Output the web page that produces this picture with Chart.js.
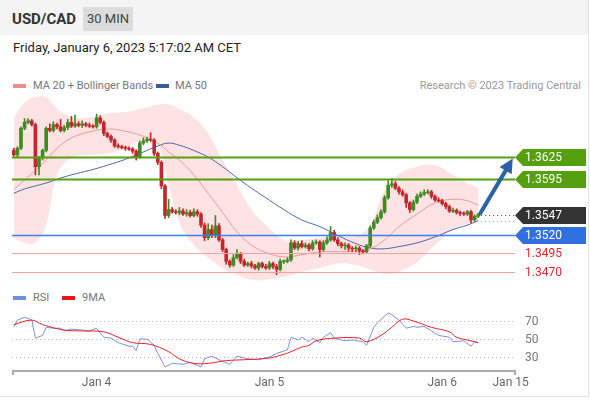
<!DOCTYPE html>
<html>
<head>
<meta charset="utf-8">
<script src="https://cdn.jsdelivr.net/npm/chart.js@4.4.1/dist/chart.umd.min.js"></script>
<style>
  body { margin: 0; background: #fff; font-family: Roboto, "Liberation Sans", Arial, sans-serif; }
  #page { position: relative; width: 588px; height: 396px; border-right: 1px solid #e4e4e4; border-bottom: 1px solid #e4e4e4; overflow: hidden; }
  #header { position: absolute; left: 0; top: 0; width: 588px; height: 35px; background: #f4f4f4; }
  #pair { position: absolute; left: 12px; top: 10px; font-size: 15px; font-weight: bold; color: #333; }
  #tf { position: absolute; left: 83px; top: 7px; width: 50px; height: 24px; line-height: 24px; text-align: center; background: #dcdcdc; font-size: 13px; color: #444; }
  #date { position: absolute; left: 13px; top: 40px; font-size: 13px; color: #222; }
  .lg { position: absolute; font-size: 11px; color: #777; line-height: 12px; }
  .sw { position: absolute; width: 13px; height: 4px; }
  canvas { position: absolute; left: 0; }
</style>
</head>
<body>
<div id="page">
  <div id="header"><div id="pair">USD/CAD</div><div id="tf">30 MIN</div></div>
  <div id="date">Friday, January 6, 2023 5:17:02 AM CET</div>

  <div class="sw" style="left:13px;top:84px;background:#f28b8b"></div>
  <div class="lg" style="left:33px;top:80px">MA 20 + Bollinger Bands</div>
  <div class="sw" style="left:156px;top:84px;background:#3a5a9c"></div>
  <div class="lg" style="left:175px;top:80px">MA 50</div>
  <div class="lg" style="right:7px;top:80px;color:#999">Research © 2023 Trading Central</div>

  <div class="sw" style="left:13px;top:296px;background:#6f8fdc"></div>
  <div class="lg" style="left:33px;top:292px">RSI</div>
  <div class="sw" style="left:62px;top:296px;background:#e8151b"></div>
  <div class="lg" style="left:82px;top:292px">9MA</div>

  <canvas id="mainChart" width="590" height="200" style="top:90px"></canvas>
  <canvas id="rsiChart" width="590" height="100" style="top:300px"></canvas>
</div>

<script>
// 30 min candles, Jan 3 12:30 -> Jan 6 05:00
const firstOpen = 1.3634;
const closes = [
  1.3628, 1.3637, 1.3664, 1.3672, 1.3674, 1.3669, 1.3612, 1.3624, 1.3634, 1.3664,
  1.3661, 1.3669, 1.3666, 1.3661, 1.3665, 1.3672, 1.3667, 1.3670, 1.3668, 1.3670,
  1.3668, 1.3667, 1.3666, 1.3678, 1.3672, 1.3657, 1.3653, 1.3648, 1.3640, 1.3639,
  1.3638, 1.3637, 1.3636, 1.3633, 1.3625, 1.3644, 1.3647, 1.3649, 1.3648, 1.3630,
  1.3618, 1.3586, 1.3546, 1.3554, 1.3551, 1.3550, 1.3552, 1.3548, 1.3550, 1.3546,
  1.3551, 1.3548, 1.3533, 1.3516, 1.3527, 1.3519, 1.3532, 1.3513, 1.3500, 1.3484,
  1.3479, 1.3489, 1.3494, 1.3484, 1.3479, 1.3481, 1.3478, 1.3475, 1.3481, 1.3477,
  1.3475, 1.3481, 1.3477, 1.3473, 1.3484, 1.3484, 1.3486, 1.3509, 1.3502, 1.3508,
  1.3504, 1.3506, 1.3501, 1.3509, 1.3510, 1.3500, 1.3509, 1.3513, 1.3523, 1.3513,
  1.3508, 1.3505, 1.3506, 1.3502, 1.3501, 1.3502, 1.3498, 1.3497, 1.3505, 1.3529,
  1.3537, 1.3543, 1.3551, 1.3570, 1.3587, 1.3589, 1.3583, 1.3578, 1.3574, 1.3563,
  1.3554, 1.3564, 1.3572, 1.3575, 1.3577, 1.3578, 1.3572, 1.3567, 1.3566, 1.3562,
  1.3558, 1.3552, 1.3553, 1.3550, 1.3549, 1.3548, 1.3551, 1.3540, 1.3545, 1.3547
];
// wick lengths above / below the body, in pips
const wickUp = [
  3,2,2,5,3,2,2,2,2,2, 6,4,2,10,3,4,8,12,3,4, 2,3,2,5,3,2,2,2,2,3,
  2,2,2,2,2,3,4,3,9,2, 2,2,2,14,3,3,5,3,4,3, 4,3,2,3,8,6,14,3,2,2,
  2,4,6,2,3,2,3,2,2,2, 3,3,2,3,3,2,3,4,3,3, 4,3,2,3,3,2,3,4,8,3,
  3,2,3,2,2,3,2,2,2,3, 3,4,3,3,6,7,3,2,3,2, 2,3,3,3,4,3,2,2,3,2,
  2,2,3,2,2,2,2,2,2,2
];
const wickDown = [
  2,3,2,2,2,2,11,11,3,2, 2,2,3,2,2,3,2,2,2,3, 2,2,2,2,2,3,2,3,2,2,
  2,3,2,3,4,2,2,2,2,3, 3,4,4,3,2,2,3,2,3,2, 2,3,3,4,3,3,3,2,3,4,
  3,2,2,3,2,2,3,2,3,2, 2,2,3,7,2,3,2,2,2,3, 2,2,3,2,2,10,2,2,2,2,
  3,3,5,4,4,4,5,3,2,2, 2,2,2,2,2,3,2,3,2,6, 4,2,2,2,2,2,3,2,2,2,
  3,2,2,2,3,2,2,4,2,2
];

// indicator lines read at these candle indexes
const indIdx    = [0, 3, 6, 9, 12, 16, 21, 26, 31, 36, 40, 43, 46, 50, 54, 58, 62, 66, 70, 75, 80, 85, 90, 95, 99, 103, 107, 112, 117, 122, 126, 129];
const bandUpper = [1.3678, 1.3699, 1.3706, 1.3706, 1.3691, 1.3679, 1.3679, 1.3684, 1.3686, 1.3691, 1.3696, 1.3696, 1.3690, 1.3679, 1.3657, 1.3621,
                   1.3587, 1.3554, 1.3533, 1.3513, 1.3513, 1.3516, 1.3518, 1.3518, 1.3533, 1.3580, 1.3602, 1.3612, 1.3614, 1.3601, 1.3590, 1.3583];
const bandLower = [1.3516, 1.3509, 1.3509, 1.3533, 1.3601, 1.3624, 1.3628, 1.3630, 1.3637, 1.3648, 1.3641, 1.3587, 1.3537, 1.3506, 1.3489, 1.3475,
                   1.3466, 1.3459, 1.3459, 1.3463, 1.3470, 1.3475, 1.3481, 1.3479, 1.3473, 1.3467, 1.3470, 1.3483, 1.3506, 1.3527, 1.3535, 1.3537];
const ma20      = [1.3581, 1.3594, 1.3607, 1.3621, 1.3637, 1.3651, 1.3659, 1.3663, 1.3660, 1.3653, 1.3644, 1.3632, 1.3621, 1.3601, 1.3576, 1.3550,
                   1.3524, 1.3506, 1.3496, 1.3490, 1.3493, 1.3497, 1.3497, 1.3498, 1.3501, 1.3513, 1.3531, 1.3548, 1.3563, 1.3568, 1.3566, 1.3560];
const ma50      = [1.3576, 1.3582, 1.3586, 1.3590, 1.3595, 1.3601, 1.3607, 1.3614, 1.3622, 1.3632, 1.3640, 1.3644, 1.3641, 1.3634, 1.3625, 1.3612,
                   1.3597, 1.3583, 1.3570, 1.3554, 1.3540, 1.3531, 1.3519, 1.3508, 1.3502, 1.3501, 1.3504, 1.3509, 1.3517, 1.3527, 1.3533, 1.3539];

const levels = [1.3625, 1.3595, 1.3547, 1.3520, 1.3495, 1.3470];
const levelKinds = ['target', 'target', 'last', 'pivot', 'support', 'support'];
const arrowFrom = [129.6, 1.3549];
const arrowTo = [138.6, 1.3623];

// RSI panel
const rsiIdx = [0, 1, 3, 4, 5, 6, 8, 9, 11, 13, 14, 16, 19, 21, 23, 25, 27, 29, 32, 33, 34, 35, 37, 39, 40, 42, 44, 47, 49, 52, 53, 55, 57, 60, 62,
                65, 68, 71, 73, 76, 77, 79, 80, 82, 83, 85, 86, 88, 89, 92, 94, 97, 98, 100, 101, 104, 105, 107, 109, 111, 112, 114, 116, 118, 121, 122, 125, 127, 128, 129];
const rsiVal = [63, 71, 74, 73, 71, 51, 54, 63, 62, 62, 59, 61, 60, 59, 62, 52, 51, 46, 42, 42, 37, 50, 50, 43, 34, 19, 23, 22, 24, 19, 28, 31, 27, 22, 31,
                28, 27, 30, 34, 38, 52, 49, 52, 47, 51, 46, 52, 57, 51, 48, 49, 47, 43, 63, 68, 79, 77, 71, 62, 64, 63, 64, 59, 54, 52, 47, 48, 42, 47, 46];
const ma9Idx = [0, 5, 8, 14, 19, 25, 29, 33, 38, 43, 46, 50, 54, 59, 64, 71, 75, 77, 80, 82, 84, 89, 96, 98, 102, 105, 108, 111, 116, 121, 123, 127, 129];
const ma9Val = [66, 71, 66, 60, 59, 58, 52, 46, 44, 36, 28, 23, 23, 26, 27, 29, 33, 36, 41, 43, 48, 51, 51, 47, 54, 63, 72, 70, 63, 58, 52, 48, 46];
const rsiLevels = [70, 50, 30];

const xTickIdx = [23, 71, 119, 138];
const xTickLabels = ['Jan 4', 'Jan 5', 'Jan 6', 'Jan 15'];

const X_MIN = -0.5, X_MAX = 139.5;
const FONT = 'Roboto, "Liberation Sans", Arial, sans-serif';
const GREEN = '#3f8a22', RED = '#c4262b';

// candles
const opens = closes.map((c, i) => i === 0 ? firstOpen : closes[i - 1]);
const bodies = closes.map((c, i) => {
    const o = opens[i];
    let lo = Math.min(o, c), hi = Math.max(o, c);
    if (hi - lo < 0.00012) { const m = (hi + lo) / 2; lo = m - 0.00006; hi = m + 0.00006; }
    return { x: i, y: [lo, hi] };
});
const wicks = closes.map((c, i) => ({
    x: i,
    y: [Math.min(opens[i], c) - wickDown[i] * 0.0001, Math.max(opens[i], c) + wickUp[i] * 0.0001]
}));
const candleColors = closes.map((c, i) => c >= opens[i] ? GREEN : RED);
const pts = (xs, ys) => xs.map((x, k) => ({ x: x, y: ys[k] }));

function labelBox(ctx, x, y, color) {
    ctx.fillStyle = color;
    ctx.beginPath();
    ctx.moveTo(x, y);
    ctx.lineTo(x + 8, y - 8.5);
    ctx.lineTo(586, y - 8.5);
    ctx.lineTo(586, y + 8.5);
    ctx.lineTo(x + 8, y + 8.5);
    ctx.closePath();
    ctx.fill();
}

const levelPlugin = {
    id: 'levels',
    afterDatasetsDraw(chart) {
        const ctx = chart.ctx, xs = chart.scales.x, ys = chart.scales.y;
        const left = chart.chartArea.left, right = 515;
        ctx.save();
        ctx.font = '12px ' + FONT;
        ctx.textBaseline = 'middle';
        levels.forEach((lv, k) => {
            const y = Math.round(ys.getPixelForValue(lv)) + 0.5;
            const kind = levelKinds[k];
            ctx.setLineDash([]);
            if (kind === 'target') {
                ctx.strokeStyle = '#54a00e'; ctx.lineWidth = 2;
                ctx.beginPath(); ctx.moveTo(left, y); ctx.lineTo(right, y); ctx.stroke();
                labelBox(ctx, right, y, '#54a00e');
                ctx.fillStyle = '#fff';
            } else if (kind === 'pivot') {
                ctx.strokeStyle = '#3d7ff0'; ctx.lineWidth = 1.3;
                ctx.beginPath(); ctx.moveTo(left, y); ctx.lineTo(right, y); ctx.stroke();
                labelBox(ctx, right, y, '#2f6fe0');
                ctx.fillStyle = '#fff';
            } else if (kind === 'last') {
                ctx.strokeStyle = '#444'; ctx.lineWidth = 1; ctx.setLineDash([1, 3]);
                const x0 = xs.getPixelForValue(closes.length - 1) + 3;
                ctx.beginPath(); ctx.moveTo(x0, y); ctx.lineTo(right, y); ctx.stroke();
                const ym = Math.round(ys.getPixelForValue(ma50[ma50.length - 1])) + 0.5;
                ctx.strokeStyle = '#888';
                ctx.beginPath(); ctx.moveTo(x0, ym); ctx.lineTo(right, ym); ctx.stroke();
                ctx.setLineDash([]);
                labelBox(ctx, right, y, '#333');
                ctx.fillStyle = '#fff';
            } else {
                ctx.strokeStyle = '#f3a2a2'; ctx.lineWidth = 1;
                ctx.beginPath(); ctx.moveTo(left, y); ctx.lineTo(right, y); ctx.stroke();
                ctx.fillStyle = '#e3262b';
            }
            ctx.fillText(lv.toFixed(4), 525, y + 0.5);
        });

        // forecast arrow
        const ax = xs.getPixelForValue(arrowFrom[0]), ay = ys.getPixelForValue(arrowFrom[1]);
        const bx = xs.getPixelForValue(arrowTo[0]), by = ys.getPixelForValue(arrowTo[1]);
        const ang = Math.atan2(by - ay, bx - ax), head = 14, half = 7;
        const hx = bx - head * Math.cos(ang), hy = by - head * Math.sin(ang);
        ctx.strokeStyle = '#2b62a8'; ctx.fillStyle = '#2b62a8'; ctx.lineWidth = 4; ctx.lineCap = 'round';
        ctx.beginPath(); ctx.moveTo(ax, ay); ctx.lineTo(hx, hy); ctx.stroke();
        ctx.beginPath();
        ctx.moveTo(bx, by);
        ctx.lineTo(hx + half * Math.sin(ang), hy - half * Math.cos(ang));
        ctx.lineTo(hx - half * Math.sin(ang), hy + half * Math.cos(ang));
        ctx.closePath(); ctx.fill();
        ctx.restore();
    }
};

new Chart(document.getElementById('mainChart'), {
    type: 'bar',
    data: {
        datasets: [
            { type: 'line', data: pts(indIdx, bandUpper), borderWidth: 0, pointRadius: 0, tension: 0.4, fill: '+1', backgroundColor: '#fde3e3', order: 5 },
            { type: 'line', data: pts(indIdx, bandLower), borderWidth: 0, pointRadius: 0, tension: 0.4, fill: false, order: 5 },
            { type: 'line', data: pts(indIdx, ma20), borderColor: '#f19a9a', borderWidth: 1, pointRadius: 0, tension: 0.4, fill: false, order: 3 },
            { type: 'line', data: pts(indIdx, ma50), borderColor: '#4a67a8', borderWidth: 1, pointRadius: 0, tension: 0.4, fill: false, order: 3 },
            { data: wicks, backgroundColor: candleColors, barThickness: 1, grouped: false, order: 1 },
            { data: bodies, backgroundColor: candleColors, barThickness: 3, grouped: false, order: 0 }
        ]
    },
    options: {
        responsive: false,
        animation: false,
        events: [],
        layout: { padding: { left: 12, right: 74, top: 5, bottom: 5 } },
        scales: {
            x: { type: 'linear', min: X_MIN, max: X_MAX, offset: false, display: false },
            y: { min: 1.3452, max: 1.3709, display: false }
        },
        plugins: { legend: { display: false }, tooltip: { enabled: false } }
    },
    plugins: [levelPlugin]
});

const rsiPlugin = {
    id: 'rsiAxes',
    beforeDatasetsDraw(chart) {
        const ctx = chart.ctx, ys = chart.scales.y, a = chart.chartArea;
        ctx.save();
        ctx.strokeStyle = '#bdbdbd'; ctx.lineWidth = 1; ctx.setLineDash([1, 3]);
        ctx.font = '12px ' + FONT; ctx.fillStyle = '#777'; ctx.textBaseline = 'middle';
        rsiLevels.forEach(v => {
            const y = Math.round(ys.getPixelForValue(v)) + 0.5;
            ctx.beginPath(); ctx.moveTo(a.left, y); ctx.lineTo(a.right, y); ctx.stroke();
            ctx.fillText(String(v), 525, y);
        });
        ctx.restore();
    },
    afterDraw(chart) {
        const ctx = chart.ctx, xs = chart.scales.x, a = chart.chartArea;
        ctx.save();
        ctx.strokeStyle = '#ababab'; ctx.lineWidth = 2;
        ctx.beginPath();
        ctx.moveTo(a.left + 1, a.bottom + 5); ctx.lineTo(a.left + 1, a.bottom + 1);
        ctx.lineTo(a.right - 1, a.bottom + 1); ctx.lineTo(a.right - 1, a.bottom + 5);
        ctx.stroke();
        ctx.font = '12px ' + FONT; ctx.fillStyle = '#666';
        ctx.textAlign = 'center'; ctx.textBaseline = 'middle';
        xTickIdx.forEach((t, k) => ctx.fillText(xTickLabels[k], xs.getPixelForValue(t), a.bottom + 13));
        ctx.restore();
    }
};

new Chart(document.getElementById('rsiChart'), {
    type: 'line',
    data: {
        datasets: [
            { data: pts(ma9Idx, ma9Val), borderColor: '#e8202a', borderWidth: 1, pointRadius: 0, tension: 0.4 },
            { data: pts(rsiIdx, rsiVal), borderColor: '#7d93dc', borderWidth: 1, pointRadius: 0, tension: 0 }
        ]
    },
    options: {
        responsive: false,
        animation: false,
        events: [],
        layout: { padding: { left: 12, right: 74, top: 3, bottom: 30 } },
        scales: {
            x: { type: 'linear', min: X_MIN, max: X_MAX, display: false },
            y: { min: 15.6, max: 90, display: false }
        },
        plugins: { legend: { display: false }, tooltip: { enabled: false } }
    },
    plugins: [rsiPlugin]
});
</script>
</body>
</html>
